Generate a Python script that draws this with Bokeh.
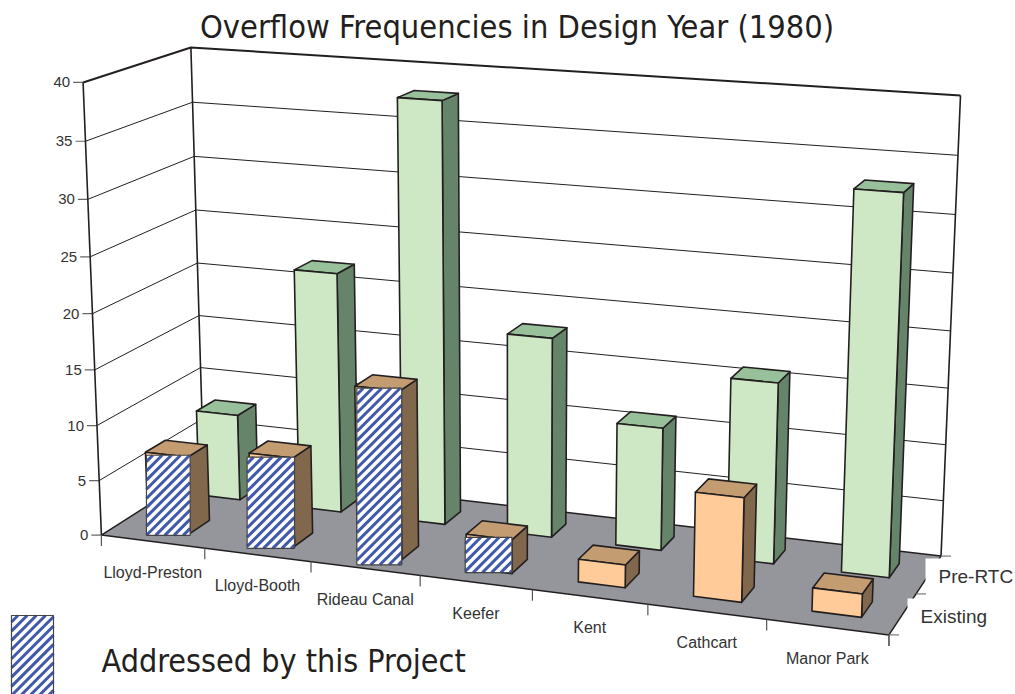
import numpy as np
from bokeh.plotting import figure
from bokeh.embed import file_html
from bokeh.resources import INLINE
from bokeh.core.properties import value

title = "Overflow Frequencies in Design Year (1980)"
legend_label = "Addressed by this Project"
categories = ["Lloyd-Preston", "Lloyd-Booth", "Rideau Canal", "Keefer", "Kent", "Cathcart", "Manor Park"]
existing = [7, 8, 15, 3, 2, 9, 2]
pre_rtc = [8, 22, 38, 18, 11, 16, 33]
addressed = [True, True, True, True, False, False, False]
y_ticks = [0, 5, 10, 15, 20, 25, 30, 35, 40]
series_labels = ["Existing", "Pre-RTC"]

# the hatched plates are pasted slightly off the bar faces: (left, right, top, bottom) nudges
plate_nudge = [(1, 0, 3, 2), (-2, 0, 4, 2), (2, 0, 2, 5), (-1, 0, 3, -1)]

# calibration of the 3-D view: (category pos, series pos, value) -> page pixel
world = [(0, 0, 0), (0, 0, 40), (0, 2, 0), (0, 2, 40), (7, 2, 0), (7, 2, 40), (7, 0, 0)]
page = [(100, 533), (83, 83), (204, 471), (190, 46), (940, 555), (960, 95), (889, 635)]
A = []
for (u, v, h), (x, y) in zip(world, page):
    A.append([u, v, h, 1, 0, 0, 0, 0, -x*u, -x*v, -x*h, -x])
    A.append([0, 0, 0, 0, u, v, h, 1, -y*u, -y*v, -y*h, -y])
P = np.linalg.svd(np.array(A, float))[2][-1].reshape(3, 4)

def pr(u, v, h):
    q = P @ np.array([u, v, h, 1.0])
    return q[0]/q[2], q[1]/q[2]

def poly(points):
    xy = [pr(*a) for a in points]
    return [a[0] for a in xy], [a[1] for a in xy]

p = figure(width=1015, height=694, x_range=(0, 1015), y_range=(694, 0),
           toolbar_location=None, output_backend="svg", min_border=0,
           outline_line_color=None, background_fill_color="white", border_fill_color="white")
p.axis.visible = False
p.grid.visible = False
p.styles = {"position": "absolute", "left": "0px", "top": "0px"}

DARK = "#231f20"
TEXT = "#333333"
STRIPE_PERIOD, STRIPE_WIDTH = 9.2, 3.0

def plate(l, r, t, b):
    """White rectangle with 45-degree blue stripes clipped to it."""
    p.patch([l, r, r, l], [t, t, b, b], fill_color="white", line_color=None)
    xs, ys = [], []
    for c in np.arange(l + t - STRIPE_PERIOD*0.3, r + b, STRIPE_PERIOD):
        # the stripe is x + y = c on the page, so it rises to the right
        x0, x1 = max(l, c - b), min(r, c - t)
        if x1 > x0:
            xs.append([x0, x1])
            ys.append([c - x0, c - x1])
    p.multi_line(xs, ys, line_color="#4159ab", line_width=STRIPE_WIDTH, line_cap="butt")
    p.patch([l, r, r, l], [t, t, b, b], fill_color=None, line_color="#444444", line_width=1.2)

# floor
fx, fy = poly([(0, 0, 0), (7, 0, 0), (7, 2, 0), (0, 2, 0)])
p.patch(fx, fy, fill_color="#95969b", line_color=DARK, line_width=1.5)

# grid lines on both walls
for t in y_ticks[1:]:
    lx, ly = poly([(0, 0, t), (0, 2, t), (7, 2, t)])
    p.line(lx, ly, line_color=DARK, line_width=2 if t == 40 else 1)
for t in y_ticks:
    tx, ty = pr(0, 0, t)
    p.line([tx-10, tx], [ty, ty], line_color="#666666", line_width=1.2)
    p.text([tx-13], [ty], text=[str(t)], text_align="right", text_baseline="middle",
           text_font=value("Liberation Sans"), text_font_size="15px", text_color=TEXT)

for a, b in [((0, 0, 0), (0, 0, 40)), ((0, 2, 0), (0, 2, 40)), ((7, 2, 0), (7, 2, 40))]:
    lx, ly = poly([a, b])
    p.line(lx, ly, line_color=DARK, line_width=1.6)

# category ticks and labels
for i in range(len(categories)+1):
    tx, ty = pr(i, 0, 0)
    p.line([tx, tx], [ty, ty+11], line_color="#555555", line_width=1.2)
for i, c in enumerate(categories):
    tx, ty = pr(i+0.5, 0, 0)
    p.text([tx], [ty+31], text=[c], text_align="center", text_baseline="middle",
           text_font=value("Liberation Sans"), text_font_size="16px", text_color=TEXT)

# white label plates and series labels
p.quad(left=[925, 907], right=[1015, 1015], top=[558, 598], bottom=[595, 632],
       fill_color="white", line_color=None)
for j in range(3):
    tx, ty = pr(7, j, 0)
    p.line([tx, tx+10], [ty, ty], line_color="#777777", line_width=1.2)
tx, ty = pr(7, 0, 0)
p.line([tx, tx], [ty, ty+11], line_color="#555555", line_width=1.2)
p.text([920, 938], [616, 576], text=series_labels, text_align="left", text_baseline="middle",
       text_font=value("Liberation Sans"), text_font_size="19px", text_color=TEXT)

# bars
BAR_W, BAR_D = 0.41, 0.38
def bar(i, s, val, front, top, side, hatched=False):
    u0, u1 = i+0.5-BAR_W/2, i+0.5+BAR_W/2
    v0, v1 = s+0.5-BAR_D/2, s+0.5+BAR_D/2
    kw = dict(line_color=DARK, line_width=1.6, line_join="round")
    sx, sy = poly([(u1, v0, 0), (u1, v1, 0), (u1, v1, val), (u1, v0, val)])
    p.patch(sx, sy, fill_color=side, **kw)
    tx, ty = poly([(u0, v0, val), (u1, v0, val), (u1, v1, val), (u0, v1, val)])
    p.patch(tx, ty, fill_color=top, **kw)
    gx, gy = poly([(u0, v0, 0), (u1, v0, 0), (u1, v0, val), (u0, v0, val)])
    p.patch(gx, gy, fill_color=front, **kw)
    if hatched:
        dl, dr, dt, db = plate_nudge[i]
        plate(min(gx)+dl, max(gx)+dr, gy[3]+dt, max(gy)+db)

for i, val in enumerate(pre_rtc):
    bar(i, 1, val, "#cee8c5", "#98c09a", "#658469")
for i, val in enumerate(existing):
    bar(i, 0, val, "#ffcc99", "#c49c72", "#81674b", addressed[i])

# title and legend
p.text([516.5], [26], text=[title], text_align="center", text_baseline="middle",
       text_font=value("DejaVu Sans Condensed"), text_font_size="32.3px", text_color=DARK)
plate(11, 53, 615, 700)
p.text([101], [660], text=[legend_label], text_align="left", text_baseline="middle",
       text_font=value("DejaVu Sans Condensed"), text_font_size="32px", text_color=DARK)

open("out.html", "w").write(file_html(p, INLINE))
